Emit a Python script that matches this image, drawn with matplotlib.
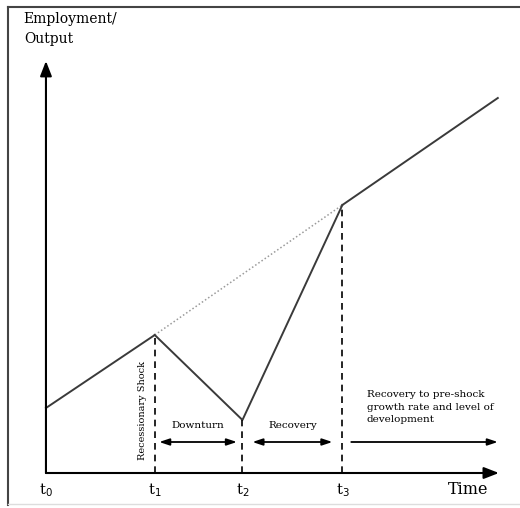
import matplotlib
matplotlib.use("Agg")
import matplotlib.pyplot as plt
from matplotlib.lines import Line2D

# ---- data (time positions and employment/output levels, arbitrary units) ----
time_labels = ["t$_0$", "t$_1$", "t$_2$", "t$_3$"]
time_pos = [0.0, 0.98, 1.77, 2.67]
t_end = 4.07
trend_start = 0.65
trend_end = 3.75
shock_level = 1.38      # level at t1 (on trend)
trough_level = 0.53     # level at t2
recovered_level = 2.68  # level at t3 (back on trend)

phase_labels = ["Downturn", "Recovery"]
long_run_label = "Recovery to pre-shock\ngrowth rate and level of\ndevelopment"

fig = plt.figure(figsize=(5.2, 5.08), dpi=100)
ax = fig.add_axes([0, 0, 1, 1])
ax.set_xlim(-0.414, 4.270)
ax.set_ylim(-0.35, 4.73)
ax.axis("off")

serif = "DejaVu Serif"
line_col = "#3a3a3a"

# frame (left and top edges of the original picture)
fig.add_artist(Line2D([8/520, 8/520], [1 - 7/508, 1 - 505/508], color="#444444", lw=1.5))
fig.add_artist(Line2D([8/520, 1.0], [1 - 7/508, 1 - 7/508], color="#444444", lw=1.5))
fig.add_artist(Line2D([8/520, 1.0], [1 - 504/508, 1 - 504/508], color="#dddddd", lw=1.0))

# axes with arrows
ax.annotate("", xy=(0, 4.12), xytext=(0, 0),
            arrowprops=dict(arrowstyle="-|>,head_length=0.9,head_width=0.35", color="black", lw=1.5,
                            shrinkA=0, shrinkB=0))
ax.annotate("", xy=(4.08, 0), xytext=(0, 0),
            arrowprops=dict(arrowstyle="-|>,head_length=0.9,head_width=0.35", color="black", lw=1.5,
                            shrinkA=0, shrinkB=0))

t1, t2, t3 = time_pos[1], time_pos[2], time_pos[3]
# trend line
ax.plot([0, t1], [trend_start, shock_level], color=line_col, lw=1.4)
ax.plot([t1, t3], [shock_level, recovered_level], color="#9a9a9a", lw=1.1, ls=(0, (1, 1.5)))
ax.plot([t3, t_end], [recovered_level, trend_end], color=line_col, lw=1.4)

# shock path
ax.plot([t1, t2, t3], [shock_level, trough_level, recovered_level], color=line_col, lw=1.4)

# dashed verticals
for tp, lvl in zip([t1, t2, t3], [shock_level, trough_level, recovered_level]):
    ax.plot([tp, tp], [0, lvl], color="black", lw=1.2, ls=(0, (4, 3)))

# time labels
for lab, tp in zip(time_labels, time_pos):
    ax.text(tp, -0.17, lab, ha="center", va="center", fontsize=10.5, family=serif)
ax.text(3.8, -0.17, "Time", ha="center", va="center", fontsize=11.5, family=serif)

# y label
ax.text(-0.2, 4.44, "Employment/\nOutput", ha="left", va="center", fontsize=10,
        family=serif, linespacing=1.55)

# recessionary shock
ax.text(t1 - 0.11, 0.63, "Recessionary Shock", rotation=90, ha="center", va="center",
        fontsize=7, family=serif)

# phase arrows
arrow_y = 0.31
pairs = [(t1 + 0.04, t2 - 0.05), (t2 + 0.09, t3 - 0.09)]
for (a, b), lab in zip(pairs, phase_labels):
    ax.annotate("", xy=(a, arrow_y), xytext=(b, arrow_y),
                arrowprops=dict(arrowstyle="<|-|>,head_length=0.6,head_width=0.2", color="black",
                                lw=1.3, shrinkA=0, shrinkB=0))
    ax.text((a + b) / 2, 0.47, lab, ha="center", va="center", fontsize=7.5, family=serif)

ax.annotate("", xy=(t_end, arrow_y), xytext=(t3 + 0.08, arrow_y),
            arrowprops=dict(arrowstyle="-|>,head_length=0.6,head_width=0.2", color="black",
                            lw=1.3, shrinkA=0, shrinkB=0))
ax.text(t3 + 0.22, 0.66, long_run_label, ha="left", va="center", fontsize=7.5,
        family=serif, linespacing=1.45)

fig.savefig("out.png", dpi=100)
